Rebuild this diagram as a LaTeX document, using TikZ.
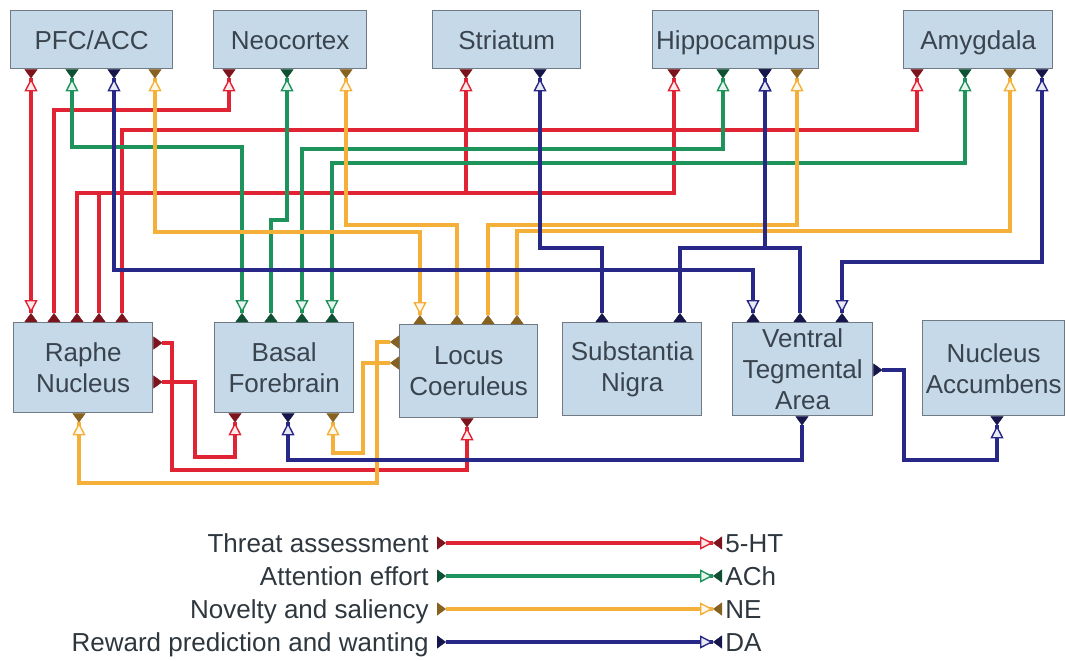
\documentclass[tikz,border=0pt]{standalone}
\usepackage{fontspec}
\setmainfont{Liberation Sans}
\usetikzlibrary{arrows.meta}

\definecolor{cR}{RGB}{224,36,52}
\definecolor{cG}{RGB}{30,148,92}
\definecolor{cO}{RGB}{244,176,56}
\definecolor{cB}{RGB}{40,40,136}
\definecolor{boxfill}{RGB}{198,217,232}
\definecolor{boxline}{RGB}{112,122,132}
\definecolor{ink}{RGB}{58,68,78}

\tikzset{
  region/.style={draw=boxline, line width=0.7pt, fill=boxfill, text=ink,
    anchor=north west, inner sep=0pt, align=center,
    font=\fontsize{13}{15.5}\selectfont},
  key/.style={inner sep=0pt, text=ink!80!black, text height=9.3pt, text depth=0pt,
    font=\fontsize{13}{15.5}\selectfont},
  link/.style={draw=#1, line width=1.9pt,
    {Triangle[reversed,length=4.5pt,width=6.5pt,line width=0.2pt,color=#1!55!black]}-{Triangle[length=6.5pt,width=6.5pt,line width=0.7pt,color=#1,fill=#1!10]Triangle[reversed,length=4.5pt,width=6.5pt,line width=0.2pt,color=#1!55!black]}},
  mutual/.style={draw=#1, line width=1.9pt,
    {Triangle[reversed,length=4.5pt,width=6.5pt,line width=0.2pt,color=#1!55!black]Triangle[length=6.5pt,width=6.5pt,line width=0.7pt,color=#1,fill=#1!10]}-{Triangle[length=6.5pt,width=6.5pt,line width=0.7pt,color=#1,fill=#1!10]Triangle[reversed,length=4.5pt,width=6.5pt,line width=0.2pt,color=#1!55!black]}},
}

\begin{document}
\begin{tikzpicture}[x=0.5pt, y=-0.5pt]
  \useasboundingbox (0,0) rectangle (1066,660);

  % Cortical and limbic targets
  \node[region, text height=9.3pt, text depth=0pt, minimum width=81pt, minimum height=29pt] (pfc) at (10,10) {PFC/ACC};
  \node[region, text height=9.3pt, text depth=0pt, minimum width=76.5pt, minimum height=29pt] (neo) at (213,10) {Neocortex};
  \node[region, text height=9.3pt, text depth=0pt, minimum width=74pt, minimum height=29pt] (str) at (432,10) {Striatum};
  \node[region, text height=9.3pt, text depth=0pt, minimum width=83pt, minimum height=29pt] (hip) at (652,10) {Hippocampus};
  \node[region, text height=9.3pt, text depth=0pt, minimum width=74.5pt, minimum height=29pt] (amy) at (903,10) {Amygdala};

  % Brainstem and basal nuclei
  \node[region, minimum width=69.5pt, minimum height=45pt] (raphe) at (13,322) {Raphe\\Nucleus};
  \node[region, minimum width=69.5pt, minimum height=45pt] (basal) at (214,322) {Basal\\Forebrain};
  \node[region, minimum width=69pt, minimum height=46.5pt] (lc) at (399,324) {Locus\\Coeruleus};
  \node[region, minimum width=69.5pt, minimum height=46.5pt] (sn) at (562,322) {Substantia\\Nigra};
  \node[region, minimum width=70pt, minimum height=46.5pt] (vta) at (732,322) {Ventral\\Tegmental\\Area};
  \node[region, minimum width=71pt, minimum height=47.5pt] (nac) at (922,320) {Nucleus\\Accumbens};

  % 5-HT
  \draw[mutual=cR] (raphe.north -| 31,0) -- (pfc.south -| 31,0);
  \draw[link=cR] (raphe.north -| 54,0) -- (54,110) -| (neo.south -| 229,0);
  \draw[link=cR] (raphe.north -| 77,0) -- (77,193) -| (hip.south -| 674,0);
  \draw[link=cR] (raphe.north -| 99,0) -- (99,193) -| (str.south -| 466,0);
  \draw[link=cR] (raphe.north -| 122,0) -- (122,130) -| (amy.south -| 917,0);
  \draw[link=cR] (raphe.east |- 0,343) -| (172,470) -| (lc.south -| 467,0);
  \draw[link=cR] (raphe.east |- 0,382) -| (195,457) -| (basal.south -| 235,0);

  % ACh
  \draw[mutual=cG] (basal.north -| 242,0) -- (242,147) -| (pfc.south -| 72,0);
  \draw[link=cG] (basal.north -| 271,0) -- (271,220) -| (neo.south -| 287,0);
  \draw[mutual=cG] (basal.north -| 302,0) -- (302,149) -| (hip.south -| 723,0);
  \draw[mutual=cG] (basal.north -| 332,0) -- (332,163) -| (amy.south -| 965,0);

  % NE
  \draw[mutual=cO] (lc.north -| 420,0) -- (420,232) -| (pfc.south -| 155,0);
  \draw[link=cO] (lc.north -| 457,0) -- (457,225) -| (neo.south -| 346,0);
  \draw[link=cO] (lc.north -| 488,0) -- (488,225) -| (hip.south -| 797,0);
  \draw[link=cO] (lc.north -| 517,0) -- (517,231) -| (amy.south -| 1010,0);
  \draw[link=cO] (lc.west |- 0,342) -| (377,483) -| (raphe.south -| 79,0);
  \draw[link=cO] (lc.west |- 0,363) -| (363,453) -| (basal.south -| 333,0);

  % DA
  \draw[mutual=cB] (vta.north -| 753,0) -- (753,270) -| (pfc.south -| 114,0);
  \draw[link=cB] (sn.north -| 602,0) -- (602,248) -| (str.south -| 540,0);
  \draw[link=cB] (sn.north -| 680,0) -- (680,248) -| (hip.south -| 765,0);
  \draw[link=cB] (vta.north -| 800,0) -- (800,248) -| (hip.south -| 765,0);
  \draw[mutual=cB] (vta.north -| 842,0) -- (842,262) -| (amy.south -| 1042,0);
  \draw[link=cB] (vta.east |- 0,370) -| (904,460) -| (nac.south -| 997,0);
  \draw[link=cB] (vta.south -| 802,0) -- (802,460) -| (basal.south -| 288,0);

  % Legend
  \foreach \col/\what/\nt [count=\i] in {cR/Threat assessment/5-HT,
      cG/Attention effort/ACh, cO/Novelty and saliency/NE,
      cB/Reward prediction and wanting/DA} {
    \node[key, anchor=east] (key\i) at (429,510+33*\i) {\what};
    \node[key, anchor=west] (nt\i) at (725,510+33*\i) {\nt};
    \draw[link=\col] ([xshift=4pt]key\i.east) -- ([xshift=-1.5pt]nt\i.west);
  }
\end{tikzpicture}
\end{document}
